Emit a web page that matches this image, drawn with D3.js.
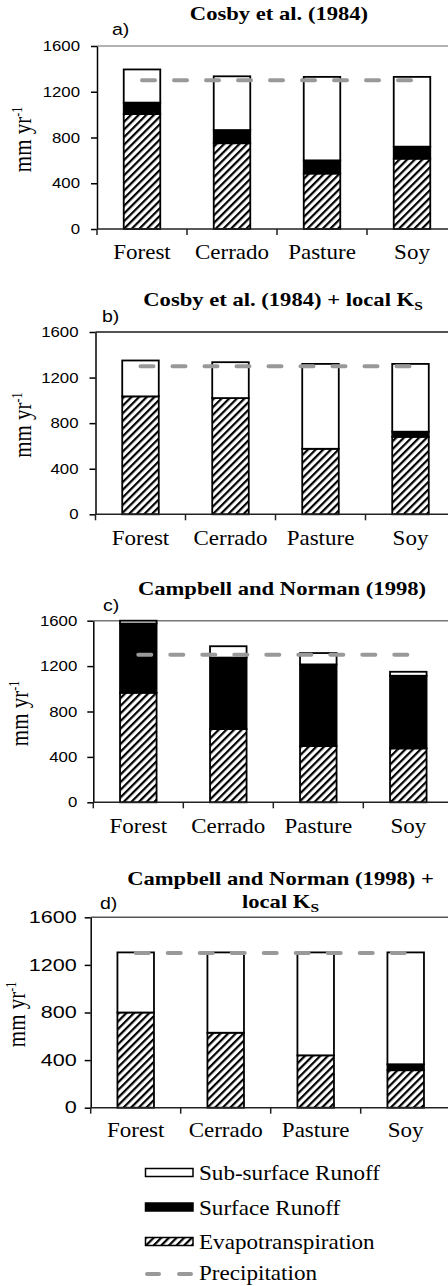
<!DOCTYPE html>
<html><head><meta charset="utf-8">
<script src="https://cdn.jsdelivr.net/npm/d3@7"></script>
<style>body{margin:0;background:#fff;} svg{display:block;}</style>
</head><body>
<script>
// ---------- data ----------
const categories = ["Forest", "Cerrado", "Pasture", "Soy"];
const yTicks = [0, 400, 800, 1200, 1600];
const seriesNames = ["Sub-surface Runoff", "Surface Runoff", "Evapotranspiration", "Precipitation"];

// a) Cosby et al. (1984)
const etA  = [1005, 750, 485, 615];
const srA  = [100, 115, 115, 105];
const ssrA = [290, 470, 730, 610];
const precipA = [1300, 1300, 1300, 1300];
// b) Cosby et al. (1984) + local Ks
const etB  = [1035, 1020, 575, 680];
const srB  = [0, 0, 0, 45];
const ssrB = [315, 315, 745, 595];
const precipB = [1300, 1300, 1300, 1300];
// c) Campbell and Norman (1998)
const etC  = [965, 645, 495, 475];
const srC  = [610, 630, 720, 640];
const ssrC = [25, 100, 100, 35];
const precipC = [1300, 1300, 1300, 1300];
// d) Campbell and Norman (1998) + local Ks
const etD  = [800, 630, 440, 315];
const srD  = [0, 0, 0, 50];
const ssrD = [505, 675, 865, 940];
const precipD = [1300, 1300, 1300, 1300];

const titleA = [["Cosby et al. (1984)", ""]];
const titleB = [["Cosby et al. (1984) + local K", "S"]];
const titleC = [["Campbell and Norman (1998)", ""]];
const titleD = [["Campbell and Norman (1998) +", ""], ["local K", "S"]];
const letters = ["a)", "b)", "c)", "d)"];
const yLabel = ["mm yr", "-1"];

// ---------- layout ----------
const W = 448, H = 1286;
const panels = [
  {et: etA, sr: srA, ssr: ssrA, precip: precipA, title: titleA, letter: letters[0],
   x0: 97, top: 46, zero: 229, frame: "#9a9a9a", lx: 112, ly: 35,
   tx: 279, ty: [20], ylx: 31, tickFs: 14, tickS: 1.2, tickGap: 17, catY: 259},
  {et: etB, sr: srB, ssr: ssrB, precip: precipB, title: titleB, letter: letters[1],
   x0: 95.5, top: 332, zero: 514.3, frame: "#1a1a1a", lx: 102, ly: 322,
   tx: 283, ty: [306], ylx: 31, tickFs: 14, tickS: 1.2, tickGap: 17, catY: 545},
  {et: etC, sr: srC, ssr: ssrC, precip: precipC, title: titleC, letter: letters[2],
   x0: 93.3, top: 620.7, zero: 802.3, frame: "#777", lx: 103, ly: 611,
   tx: 282, ty: [595], ylx: 28, tickFs: 14, tickS: 1.2, tickGap: 16, catY: 833},
  {et: etD, sr: srD, ssr: ssrD, precip: precipD, title: titleD, letter: letters[3],
   x0: 90.7, top: 917.3, zero: 1107.7, frame: "#555", lx: 100, ly: 909,
   tx: 280.5, ty: [885, 908], ylx: 25, tickFs: 16, tickS: 1.35, tickGap: 14, catY: 1137}
];

const svg = d3.select("body").append("svg").attr("width", W).attr("height", H);
const defs = svg.append("defs");
const pat = defs.append("pattern").attr("id", "hatch")
  .attr("patternUnits", "userSpaceOnUse").attr("width", 5.4).attr("height", 5.4)
  .attr("patternTransform", "rotate(45)");
pat.append("rect").attr("width", 5.4).attr("height", 5.4).attr("fill", "#fff");
pat.append("rect").attr("width", 2.2).attr("height", 5.4).attr("fill", "#000");

const serif = "'Liberation Serif','Times New Roman',Times,serif";
const sans = "'Liberation Sans',Arial,Helvetica,sans-serif";

function stretchText(g, x, y, s, str, opts) {
  const t = g.append("text")
    .attr("transform", `translate(${x},${y}) scale(${s},1)`)
    .attr("font-family", opts.family)
    .attr("font-size", opts.size)
    .attr("font-weight", opts.weight || "normal")
    .attr("text-anchor", opts.anchor || "start")
    .attr("fill", "#000");
  if (opts.dy) t.attr("dy", opts.dy);
  t.text(str);
  return t;
}

const fillFor = {et: "url(#hatch)", sr: "#000", ssr: "#fff"};

panels.forEach(p => {
  const g = svg.append("g");
  const x = d3.scaleBand().domain(categories).range([p.x0, p.x0 + 360])
    .paddingInner(0.594).paddingOuter(0.297);
  const y = d3.scaleLinear().domain([0, 1600]).range([p.zero, p.top]);

  // plot-area top border
  g.append("line").attr("x1", p.x0).attr("x2", W).attr("y1", y(1600)).attr("y2", y(1600))
    .attr("stroke", p.frame).attr("stroke-width", 1.5);

  // stacked bars
  const rows = categories.map((c, i) => ({cat: c, et: p.et[i], sr: p.sr[i], ssr: p.ssr[i]}));
  const stack = d3.stack().keys(["et", "sr", "ssr"])(rows);
  stack.forEach(layer => {
    g.append("g").selectAll("rect")
      .data(layer.filter(d => d[1] - d[0] > 0))
      .join("rect")
      .attr("x", d => x(d.data.cat))
      .attr("width", x.bandwidth())
      .attr("y", d => y(d[1]))
      .attr("height", d => y(d[0]) - y(d[1]))
      .attr("fill", fillFor[layer.key])
      .attr("stroke", "#000").attr("stroke-width", 1.8);
  });

  // y axis
  const ya = g.append("g").attr("transform", `translate(${p.x0},0)`)
    .call(d3.axisLeft(y).tickValues(yTicks).tickSize(6).tickSizeOuter(0).tickFormat(""));
  ya.selectAll("path,line").attr("stroke", "#000").attr("stroke-width", 1.5);
  yTicks.forEach(v => {
    stretchText(g, p.x0 - p.tickGap, y(v), p.tickS, String(v),
      {family: sans, size: p.tickFs, anchor: "end", dy: "0.36em"});
  });

  // x axis line + boundary ticks
  g.append("line").attr("x1", p.x0).attr("x2", W).attr("y1", p.zero).attr("y2", p.zero)
    .attr("stroke", "#222").attr("stroke-width", 1.5);
  d3.range(categories.length + 1).map(i => p.x0 + x.step() * i).filter(v => v < W)
    .forEach(v => {
      g.append("line").attr("x1", v).attr("x2", v).attr("y1", p.zero).attr("y2", p.zero + 6)
        .attr("stroke", "#222").attr("stroke-width", 1.5);
    });
  categories.forEach(c => {
    stretchText(g, x(c) + x.bandwidth() / 2, p.catY, 1.15, c,
      {family: serif, size: 20, anchor: "middle"});
  });

  // precipitation dashed line
  const line = d3.line().x(d => x(d.cat) + x.bandwidth() / 2).y(d => y(d.v));
  g.append("path")
    .datum(categories.map((c, i) => ({cat: c, v: p.precip[i]})))
    .attr("d", line).attr("fill", "none")
    .attr("stroke", "#999").attr("stroke-width", 4)
    .attr("stroke-dasharray", "13 19").attr("stroke-linecap", "round");

  // titles
  p.title.forEach((ln, k) => {
    const t = g.append("text")
      .attr("transform", `translate(${p.tx},${p.ty[k]}) scale(1.19,1)`)
      .attr("font-family", serif).attr("font-size", 19).attr("font-weight", "bold")
      .attr("text-anchor", "middle").attr("fill", "#000");
    t.append("tspan").text(ln[0]);
    if (ln[1]) t.append("tspan").attr("font-size", 13).attr("dy", 4).text(ln[1]);
  });

  // panel letter
  stretchText(g, p.lx, p.ly, 1.15, p.letter, {family: sans, size: 17});

  // y label
  const cy = (p.top + p.zero) / 2 + 2;
  const yl = g.append("text")
    .attr("transform", `translate(${p.ylx},${cy}) scale(1.15,1) rotate(-90)`)
    .attr("font-family", serif).attr("font-size", 21)
    .attr("text-anchor", "middle").attr("fill", "#000");
  yl.append("tspan").text(yLabel[0]);
  yl.append("tspan").attr("font-size", 12).attr("dy", -8).text(yLabel[1]);
});

// ---------- legend ----------
const lg = svg.append("g");
const legendBase = [1180, 1214.5, 1249, 1280];
const swFill = ["#fff", "#000", "url(#hatch)"];
seriesNames.forEach((name, i) => {
  const b = legendBase[i];
  if (i < 3) {
    lg.append("rect").attr("x", 145.5).attr("y", b - 11.5).attr("width", 47.5).attr("height", 8)
      .attr("fill", swFill[i]).attr("stroke", "#000").attr("stroke-width", 1.5);
  } else {
    lg.append("line").attr("x1", 147).attr("x2", 191).attr("y1", b - 6).attr("y2", b - 6)
      .attr("stroke", "#999").attr("stroke-width", 4)
      .attr("stroke-dasharray", "12 20").attr("stroke-linecap", "round");
  }
  stretchText(lg, 199, b, 1.1, name, {family: serif, size: 21});
});
</script>
</body></html>
